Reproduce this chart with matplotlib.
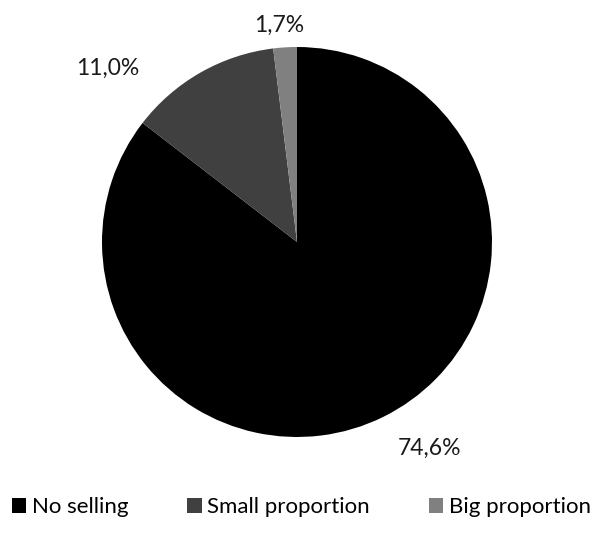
import matplotlib
matplotlib.use("Agg")
import matplotlib.pyplot as plt

plt.rcParams['font.family'] = ['Lato', 'DejaVu Sans']

categories = ['No selling', 'Small proportion', 'Big proportion']
values = [74.6, 11.0, 1.7]
pct_labels = ['74,6%', '11,0%', '1,7%']
colors = ['#000000', '#404040', '#808080']
# label anchor points (baseline centre, in pie radius units)
label_pos = [(0.68, -1.092), (-0.97, 0.856), (-0.09, 1.077)]

fig = plt.figure(figsize=(5.93, 5.35), dpi=100)
W, H = 593, 535
cx, cy, r = 297, 242, 195
ax = fig.add_axes([(cx - r) / W, (H - cy - r) / H, 2 * r / W, 2 * r / H])

wedges, _ = ax.pie(values, colors=colors, startangle=90, counterclock=False,
                   wedgeprops=dict(linewidth=0))
ax.set_xlim(-1, 1)
ax.set_ylim(-1, 1)
ax.set_aspect('equal')
ax.axis('off')

for (x, y), t in zip(label_pos, pct_labels):
    ax.text(x, y, t, ha='center', va='baseline', fontsize=16.5, color='#1a1a1a',
            clip_on=False)

fig.legend(wedges, categories, loc='center', bbox_to_anchor=(301.5 / W, 1 - 507 / H),
           ncol=3, frameon=False, fontsize=16, handlelength=0.65, handleheight=0.65,
           handletextpad=0.25, columnspacing=2.65, borderpad=0, borderaxespad=0)

fig.savefig('out.png', dpi=100)
